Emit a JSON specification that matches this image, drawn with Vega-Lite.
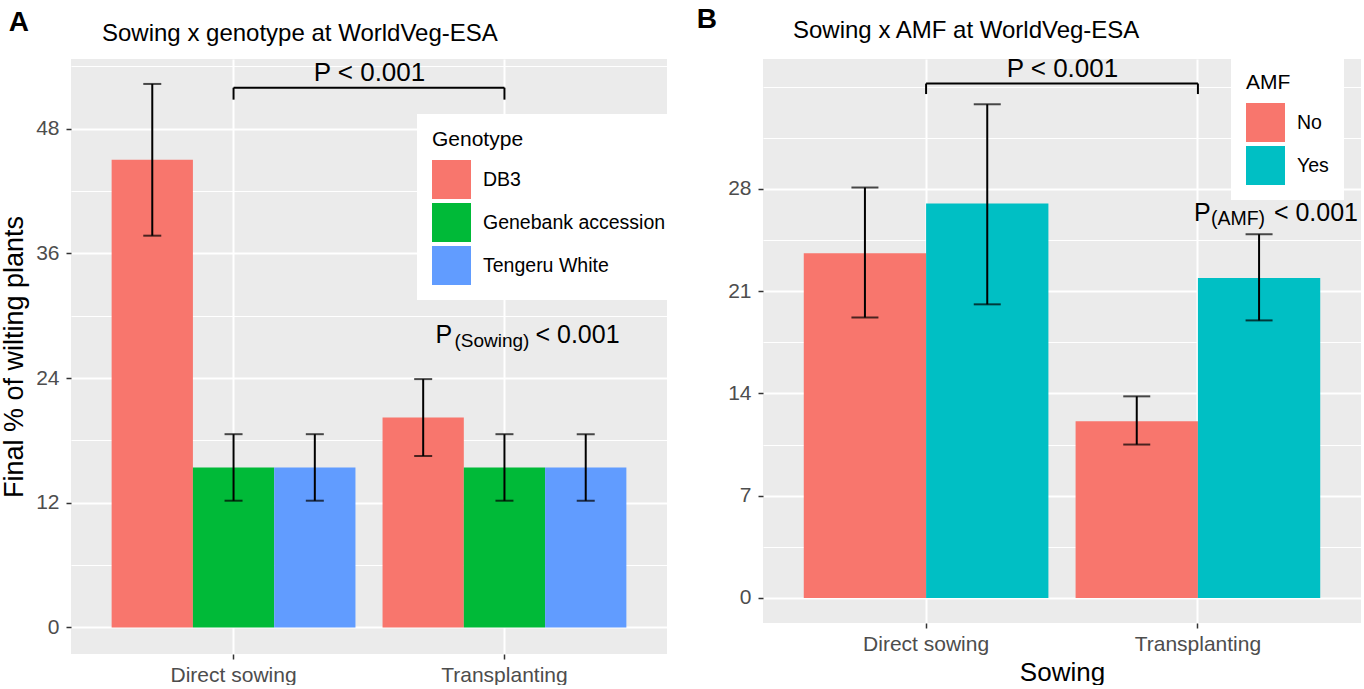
{
  "$schema": "https://vega.github.io/schema/vega-lite/v6.json",
  "padding": {"left": 0, "top": 5, "right": 0, "bottom": 0},
  "background": "white",
  "config": {
    "font": "Liberation Sans",
    "view": {"fill": "#EBEBEB", "stroke": null},
    "axis": {
      "labelFont": "Liberation Sans", "labelFontSize": 21, "labelColor": "#4D4D4D",
      "tickColor": "#333333", "tickWidth": 1.5, "tickSize": 5, "domain": false,
      "gridColor": "white", "gridWidth": 2, "gridOpacity": 1,
      "titleFont": "Liberation Sans", "titleFontSize": 26, "titleColor": "black", "titleFontWeight": "normal"
    },
    "legend": {
      "titleFont": "Liberation Sans", "labelFont": "Liberation Sans",
      "titleFontSize": 21, "labelFontSize": 19.5, "titleFontWeight": "normal",
      "titleColor": "black", "labelColor": "black", "labelLimit": 300
    },
    "title": {"font": "Liberation Sans", "fontWeight": "normal", "color": "black"},
    "concat": {"spacing": 15}
  },
  "datasets": {
    "a": [
      {"Sowing": "Direct sowing", "Genotype": "DB3", "mean": 45.0, "lo": 37.7, "hi": 52.3},
      {"Sowing": "Direct sowing", "Genotype": "Genebank accession", "mean": 15.4, "lo": 12.2, "hi": 18.6},
      {"Sowing": "Direct sowing", "Genotype": "Tengeru White", "mean": 15.4, "lo": 12.2, "hi": 18.6},
      {"Sowing": "Transplanting", "Genotype": "DB3", "mean": 20.2, "lo": 16.5, "hi": 23.9},
      {"Sowing": "Transplanting", "Genotype": "Genebank accession", "mean": 15.4, "lo": 12.2, "hi": 18.6},
      {"Sowing": "Transplanting", "Genotype": "Tengeru White", "mean": 15.4, "lo": 12.2, "hi": 18.6}
    ],
    "b": [
      {"Sowing": "Direct sowing", "AMF": "No", "mean": 23.6, "lo": 19.2, "hi": 28.1},
      {"Sowing": "Direct sowing", "AMF": "Yes", "mean": 27.0, "lo": 20.1, "hi": 33.8},
      {"Sowing": "Transplanting", "AMF": "No", "mean": 12.1, "lo": 10.5, "hi": 13.8},
      {"Sowing": "Transplanting", "AMF": "Yes", "mean": 21.9, "lo": 19.0, "hi": 24.9}
    ],
    "bracketA": [{"from": "Direct sowing", "to": "Transplanting", "y": 51.94}],
    "bracketEndsA": [
      {"Sowing": "Direct sowing", "y": 51.94, "y2": 50.79},
      {"Sowing": "Transplanting", "y": 51.94, "y2": 50.79}
    ],
    "bracketB": [{"from": "Direct sowing", "to": "Transplanting", "y": 35.22}],
    "bracketEndsB": [
      {"Sowing": "Direct sowing", "y": 35.22, "y2": 34.5},
      {"Sowing": "Transplanting", "y": 35.22, "y2": 34.5}
    ],
    "textA": [{"Sowing": "Direct sowing", "label": "P < 0.001", "y": 52.6}],
    "textB": [{"Sowing": "Direct sowing", "label": "P < 0.001", "y": 35.67}],
    "subA": [{"Sowing": "Transplanting", "p": "P", "sub": "(Sowing)", "rest": "< 0.001", "y": 27.41, "ysub": 27.03}],
    "subB": [{"Sowing": "Transplanting", "p": "P", "sub": "(AMF)", "rest": "< 0.001", "y": 25.81, "ysub": 25.54}]
  },
  "hconcat": [
    {
      "title": {"text": "A", "fontSize": 28, "fontWeight": "bold", "anchor": "start", "frame": "bounds", "offset": -15, "dx": 8},
      "vconcat": [
        {
          "title": {"text": "Sowing x genotype at WorldVeg-ESA", "fontSize": 24, "anchor": "start", "frame": "group", "dx": 31, "offset": 13},
          "width": 596,
          "height": 595,
          "resolve": {"axis": {"y": "independent"}},
          "layer": [
            {
              "data": {"name": "a"},
              "mark": {"type": "bar"},
              "encoding": {
                "x": {"field": "Sowing", "type": "nominal", "sort": null,
                      "scale": {"paddingInner": 0.1, "paddingOuter": 0.15},
                      "axis": {"title": null, "labelPadding": 5, "grid": true, "labelAngle": 0}},
                "xOffset": {"field": "Genotype", "type": "nominal", "sort": null, "scale": {"paddingInner": 0, "paddingOuter": 0}},
                "y": {"field": "mean", "type": "quantitative",
                      "scale": {"domain": [-2.55, 54.7], "nice": false, "zero": false},
                      "axis": {"orient": "left", "values": [0, 12, 24, 36, 48], "title": "Final % of wilting plants", "titleFontSize": 27, "labelPadding": 7, "titlePadding": 7, "grid": true}},
                "color": {"field": "Genotype", "type": "nominal", "sort": null,
                          "scale": {"domain": ["DB3", "Genebank accession", "Tengeru White"], "range": ["#F8766D", "#00BA38", "#619CFF"]},
                          "legend": {"orient": "none", "legendX": 346, "legendY": 55, "title": "Genotype", "fillColor": "white", "padding": 15,
                                     "symbolType": "square", "symbolSize": 1521, "symbolStrokeWidth": 0, "symbolOpacity": 1,
                                     "labelOffset": 12, "rowPadding": 4, "titlePadding": 10}}
              }
            },
            {
              "data": {"name": "a"},
              "mark": {"type": "rule", "color": "black", "strokeWidth": 2},
              "encoding": {
                "x": {"field": "Sowing", "type": "nominal", "sort": null},
                "xOffset": {"field": "Genotype", "type": "nominal", "sort": null},
                "y": {"field": "lo", "type": "quantitative",
                      "axis": {"orient": "left", "values": [6, 18, 30, 42, 54], "grid": true, "gridWidth": 1, "labels": false, "ticks": false, "domain": false, "title": null}},
                "y2": {"field": "hi"}
              }
            },
            {
              "data": {"name": "a"},
              "mark": {"type": "tick", "orient": "horizontal", "color": "black", "thickness": 2, "size": 18},
              "encoding": {
                "x": {"field": "Sowing", "type": "nominal", "sort": null},
                "xOffset": {"field": "Genotype", "type": "nominal", "sort": null},
                "y": {"field": "lo", "type": "quantitative", "axis": null}
              }
            },
            {
              "data": {"name": "a"},
              "mark": {"type": "tick", "orient": "horizontal", "color": "black", "thickness": 2, "size": 18},
              "encoding": {
                "x": {"field": "Sowing", "type": "nominal", "sort": null},
                "xOffset": {"field": "Genotype", "type": "nominal", "sort": null},
                "y": {"field": "hi", "type": "quantitative", "axis": null}
              }
            },
            {
              "data": {"name": "bracketA"},
              "mark": {"type": "rule", "color": "black", "strokeWidth": 2},
              "encoding": {
                "x": {"field": "from", "type": "nominal", "bandPosition": 0.5},
                "x2": {"field": "to"},
                "y": {"field": "y", "type": "quantitative", "axis": null}
              }
            },
            {
              "data": {"name": "bracketEndsA"},
              "mark": {"type": "rule", "color": "black", "strokeWidth": 2},
              "encoding": {
                "x": {"field": "Sowing", "type": "nominal", "bandPosition": 0.5},
                "y": {"field": "y", "type": "quantitative", "axis": null},
                "y2": {"field": "y2"}
              }
            },
            {
              "data": {"name": "textA"},
              "mark": {"type": "text", "fontSize": 26, "align": "center", "baseline": "alphabetic", "dx": 14, "color": "black"},
              "encoding": {
                "x": {"field": "Sowing", "type": "nominal", "bandPosition": 1},
                "y": {"field": "y", "type": "quantitative", "axis": null},
                "text": {"field": "label"}
              }
            },
            {
              "data": {"name": "subA"},
              "mark": {"type": "text", "fontSize": 25, "align": "left", "baseline": "alphabetic", "dx": -69, "color": "black"},
              "encoding": {
                "x": {"field": "Sowing", "type": "nominal", "bandPosition": 0.5},
                "y": {"field": "y", "type": "quantitative", "axis": null},
                "text": {"field": "p"}
              }
            },
            {
              "data": {"name": "subA"},
              "mark": {"type": "text", "fontSize": 19, "align": "left", "baseline": "alphabetic", "dx": -50, "color": "black"},
              "encoding": {
                "x": {"field": "Sowing", "type": "nominal", "bandPosition": 0.5},
                "y": {"field": "ysub", "type": "quantitative", "axis": null},
                "text": {"field": "sub"}
              }
            },
            {
              "data": {"name": "subA"},
              "mark": {"type": "text", "fontSize": 25, "align": "left", "baseline": "alphabetic", "dx": 31, "color": "black"},
              "encoding": {
                "x": {"field": "Sowing", "type": "nominal", "bandPosition": 0.5},
                "y": {"field": "y", "type": "quantitative", "axis": null},
                "text": {"field": "rest"}
              }
            }
          ]
        }
      ]
    },
    {
      "title": {"text": "B", "fontSize": 28, "fontWeight": "bold", "anchor": "start", "frame": "bounds", "offset": -15, "dx": -31},
      "vconcat": [
        {
          "title": {"text": "Sowing x AMF at WorldVeg-ESA", "fontSize": 24, "anchor": "start", "frame": "group", "dx": 30, "offset": 13},
          "width": 598,
          "height": 564,
          "resolve": {"axis": {"y": "independent"}},
          "layer": [
            {
              "data": {"name": "b"},
              "mark": {"type": "bar"},
              "encoding": {
                "x": {"field": "Sowing", "type": "nominal", "sort": null,
                      "scale": {"paddingInner": 0.1, "paddingOuter": 0.15},
                      "axis": {"title": "Sowing", "labelPadding": 5, "titlePadding": 5, "grid": true, "labelAngle": 0}},
                "xOffset": {"field": "AMF", "type": "nominal", "sort": null, "scale": {"paddingInner": 0, "paddingOuter": 0}},
                "y": {"field": "mean", "type": "quantitative",
                      "scale": {"domain": [-1.72, 36.9], "nice": false, "zero": false},
                      "axis": {"orient": "left", "values": [0, 7, 14, 21, 28], "title": null, "labelPadding": 7, "grid": true}},
                "color": {"field": "AMF", "type": "nominal", "sort": null,
                          "scale": {"domain": ["No", "Yes"], "range": ["#F8766D", "#00BFC4"]},
                          "legend": {"orient": "none", "legendX": 468, "legendY": -2, "title": "AMF", "fillColor": "white", "padding": 15,
                                     "symbolType": "square", "symbolSize": 1521, "symbolStrokeWidth": 0, "symbolOpacity": 1,
                                     "labelOffset": 12, "rowPadding": 4, "titlePadding": 10}}
              }
            },
            {
              "data": {"name": "b"},
              "mark": {"type": "rule", "color": "black", "strokeWidth": 2},
              "encoding": {
                "x": {"field": "Sowing", "type": "nominal", "sort": null},
                "xOffset": {"field": "AMF", "type": "nominal", "sort": null},
                "y": {"field": "lo", "type": "quantitative",
                      "axis": {"orient": "left", "values": [3.5, 10.5, 17.5, 24.5, 31.5, 35], "grid": true, "gridWidth": 1, "labels": false, "ticks": false, "domain": false, "title": null}},
                "y2": {"field": "hi"}
              }
            },
            {
              "data": {"name": "b"},
              "mark": {"type": "tick", "orient": "horizontal", "color": "black", "thickness": 2, "size": 27},
              "encoding": {
                "x": {"field": "Sowing", "type": "nominal", "sort": null},
                "xOffset": {"field": "AMF", "type": "nominal", "sort": null},
                "y": {"field": "lo", "type": "quantitative", "axis": null}
              }
            },
            {
              "data": {"name": "b"},
              "mark": {"type": "tick", "orient": "horizontal", "color": "black", "thickness": 2, "size": 27},
              "encoding": {
                "x": {"field": "Sowing", "type": "nominal", "sort": null},
                "xOffset": {"field": "AMF", "type": "nominal", "sort": null},
                "y": {"field": "hi", "type": "quantitative", "axis": null}
              }
            },
            {
              "data": {"name": "bracketB"},
              "mark": {"type": "rule", "color": "black", "strokeWidth": 2},
              "encoding": {
                "x": {"field": "from", "type": "nominal", "bandPosition": 0.5},
                "x2": {"field": "to"},
                "y": {"field": "y", "type": "quantitative", "axis": null}
              }
            },
            {
              "data": {"name": "bracketEndsB"},
              "mark": {"type": "rule", "color": "black", "strokeWidth": 2},
              "encoding": {
                "x": {"field": "Sowing", "type": "nominal", "bandPosition": 0.5},
                "y": {"field": "y", "type": "quantitative", "axis": null},
                "y2": {"field": "y2"}
              }
            },
            {
              "data": {"name": "textB"},
              "mark": {"type": "text", "fontSize": 26, "align": "center", "baseline": "alphabetic", "dx": 14, "color": "black"},
              "encoding": {
                "x": {"field": "Sowing", "type": "nominal", "bandPosition": 1},
                "y": {"field": "y", "type": "quantitative", "axis": null},
                "text": {"field": "label"}
              }
            },
            {
              "data": {"name": "subB"},
              "mark": {"type": "text", "fontSize": 25, "align": "left", "baseline": "alphabetic", "dx": -4, "color": "black"},
              "encoding": {
                "x": {"field": "Sowing", "type": "nominal", "bandPosition": 0.5},
                "y": {"field": "y", "type": "quantitative", "axis": null},
                "text": {"field": "p"}
              }
            },
            {
              "data": {"name": "subB"},
              "mark": {"type": "text", "fontSize": 19.5, "align": "left", "baseline": "alphabetic", "dx": 13, "color": "black"},
              "encoding": {
                "x": {"field": "Sowing", "type": "nominal", "bandPosition": 0.5},
                "y": {"field": "ysub", "type": "quantitative", "axis": null},
                "text": {"field": "sub"}
              }
            },
            {
              "data": {"name": "subB"},
              "mark": {"type": "text", "fontSize": 25, "align": "left", "baseline": "alphabetic", "dx": 76, "color": "black"},
              "encoding": {
                "x": {"field": "Sowing", "type": "nominal", "bandPosition": 0.5},
                "y": {"field": "y", "type": "quantitative", "axis": null},
                "text": {"field": "rest"}
              }
            }
          ]
        }
      ]
    }
  ],
  "resolve": {"scale": {"color": "independent", "x": "independent", "xOffset": "independent", "y": "independent"}}
}
